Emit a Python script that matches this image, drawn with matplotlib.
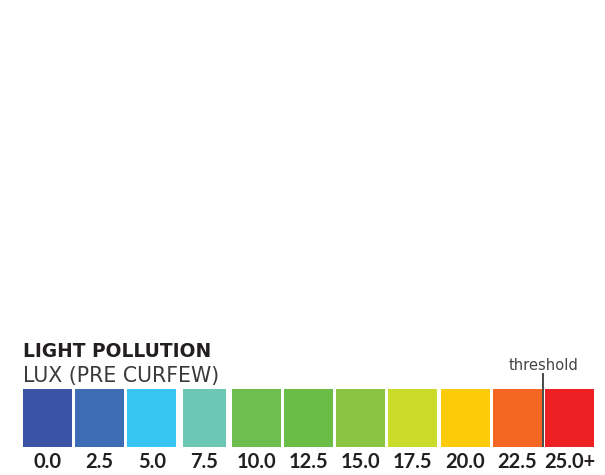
import matplotlib
matplotlib.use("Agg")
import matplotlib.pyplot as plt
from matplotlib.transforms import blended_transform_factory

# Legend scale for light pollution (lux, before curfew)
levels = ["0.0", "2.5", "5.0", "7.5", "10.0", "12.5", "15.0", "17.5", "20.0", "22.5", "25.0+"]
colors = ["#3A53A4", "#3F6DB5", "#35C5F0", "#6DC7B5", "#6DBE4F", "#6ABD45",
          "#8BC443", "#CBDB2A", "#FCCB0A", "#F46723", "#EE2024"]
threshold_between = ("22.5", "25.0+")
title = "LIGHT POLLUTION"
subtitle = "LUX (PRE CURFEW)"
threshold_label = "threshold"

W, H = 605, 475
fig = plt.figure(figsize=(W / 100, H / 100), dpi=100)
fig.patch.set_facecolor("white")

def fx(px):
    return px / W

def fy(py):
    return 1 - py / H

# axes spanning the swatch row: one unit per swatch
pitch = 52.2
box_w = 49.0
left_px = 23 - (pitch - box_w) / 2
top_px, bottom_px = 389, 447
ax = fig.add_axes([fx(left_px), fy(bottom_px), fx(pitch * len(levels)), (bottom_px - top_px) / H])
ax.set_xlim(-0.5, len(levels) - 0.5)
ax.set_ylim(0, 1)
ax.axis("off")

widths = [box_w / pitch] * len(levels)
widths[levels.index("7.5")] = 43 / pitch
xs = list(range(len(levels)))
ax.bar(xs, [1] * len(levels), width=widths, color=colors, bottom=0, align="center", linewidth=0)

trans = blended_transform_factory(ax.transData, fig.transFigure)

# value labels under each swatch
for x, lab in zip(xs, levels):
    ax.text(x, fy(468), lab, transform=trans, ha="center", va="baseline",
            fontsize=14.5, fontweight="bold", color="#231F20", family="Lato")

# threshold marker between two swatches
tx = (levels.index(threshold_between[0]) + levels.index(threshold_between[1])) / 2
ax.plot([tx, tx], [fy(373), fy(447)], transform=trans, color="#4A4A4A",
        linewidth=1.4, clip_on=False, solid_capstyle="butt")
ax.text(tx, fy(370), threshold_label, transform=trans, ha="center", va="baseline",
        fontsize=10.6, color="#444444", family="DejaVu Sans")

fig.text(fx(23), fy(357), title, ha="left", va="baseline", fontsize=13.4,
         fontweight="bold", color="#231F20", family="DejaVu Sans")
fig.text(fx(23), fy(382), subtitle, ha="left", va="baseline", fontsize=14.8,
         color="#3A3A3A", family="DejaVu Sans")

fig.savefig("out.png", dpi=100, facecolor="white")
